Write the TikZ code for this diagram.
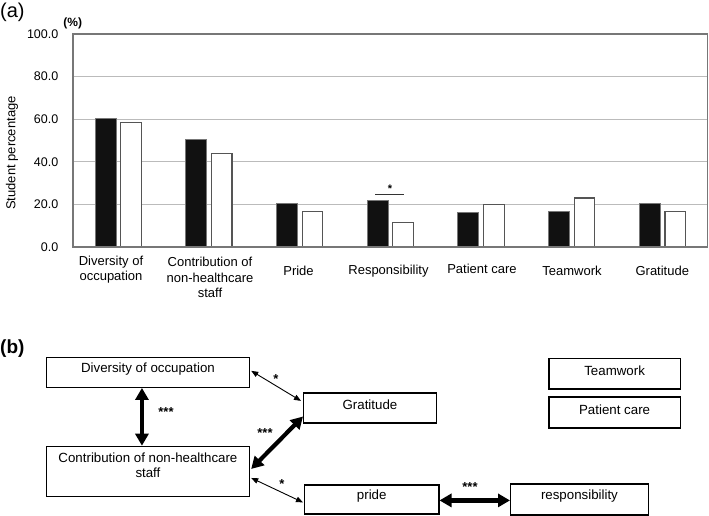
\documentclass[tikz,border=0pt]{standalone}
\usepackage{fontspec}
\setmainfont{Liberation Sans}
\usetikzlibrary{arrows.meta}
\definecolor{barblack}{HTML}{111111}
\definecolor{frame}{HTML}{777777}
\definecolor{gridc}{HTML}{BBBBBB}
\definecolor{bwhite}{HTML}{555555}
\tikzset{
  lbl/.style={font=\fontsize{13}{15.6}\selectfont, inner sep=0pt, align=center},
  tick/.style={font=\fontsize{12.5}{14}\selectfont, inner sep=0pt, anchor=east},
  blk/.style={fill=barblack, draw=frame, line width=0.8pt},
  wht/.style={fill=white, draw=bwhite, line width=1.2pt},
  box/.style={draw, line width=1.2pt, inner sep=0pt, anchor=north west},
  btxt/.style={font=\fontsize{13.3}{15.5}\selectfont, inner sep=0pt, align=center},
  star/.style={font=\fontsize{13}{14}\selectfont\bfseries, inner sep=0pt},
  thick arr/.style={line width=4.2pt, {Triangle[width=13pt,length=12pt]}-{Triangle[width=13pt,length=12pt]}},
  thin arr/.style={line width=0.9pt, {Triangle[width=5.5pt,length=7pt]}-{Triangle[width=5.5pt,length=7pt]}},
}
\begin{document}
\begin{tikzpicture}[x=1pt,y=-1pt]
\useasboundingbox (0,0) rectangle (709,515);
% ---------- (a) chart ----------
\node[font=\fontsize{20}{22}\selectfont, inner sep=0pt, anchor=west] (pa) at (0,12) {(a)};
\node[font=\fontsize{12}{13}\selectfont\bfseries, inner sep=0pt] (pct) at (72.7,23) {(\%)};
\node[lbl, rotate=90] (ylab) at (12,153) {Student percentage};
% grid
\foreach \v in {20,40,60,80} {
  \draw[gridc, line width=1pt] (73,{247-2.13*\v}) -- (707.5,{247-2.13*\v});
}
\foreach \v/\t in {0/0.0,20/20.0,40/40.0,60/60.0,80/80.0,100/100.0} {
  \node[tick] (tk\v) at (58.5,{247-2.13*\v}) {\t};
}
% bars
\foreach \i/\a/\b in {0/60.5/58.5,1/50.6/43.8,2/20.5/16.8,3/21.9/11.6,4/16.1/19.9,5/16.8/23.0,6/20.5/16.8} {
  \pgfmathsetmacro{\c}{73+90.7*(\i+0.5)}
  \draw[blk] ({\c-23.4},247) rectangle ({\c-2.4},{247-2.13*\a});
  \draw[wht] ({\c+2.4},247) rectangle ({\c+23},{247-2.13*\b});
}
% frame
\draw[frame, line width=1.3pt] (73,34) rectangle (707.5,247);
% significance
\draw[line width=1pt, black!80] (375,194.7) -- (403.7,194.7);
\node[star, font=\fontsize{11}{12}\selectfont\bfseries] (sa) at (390,188.5) {*};
% category labels
\node[lbl] (c1) at (111,269.5) {Diversity of\\occupation};
\node[lbl] (c2) at (210,277.5) {Contribution of\\non-healthcare\\staff};
\node[lbl] (c3) at (298.5,271.3) {Pride};
\node[lbl] (c4) at (388.5,271) {Responsibility};
\node[lbl] (c5) at (482,268.7) {Patient care};
\node[lbl] (c6) at (572,271) {Teamwork};
\node[lbl] (c7) at (662.3,271) {Gratitude};
% ---------- (b) diagram ----------
\node[font=\fontsize{19}{21}\selectfont\bfseries, inner sep=0pt, anchor=west] (pb) at (0,349) {(b)};
\node[box, minimum width=203.3pt, minimum height=30pt] (div) at (45.7,356.7) {};
\node[box, minimum width=203.3pt, minimum height=50.3pt] (con) at (45.7,445.7) {};
\node[box, minimum width=132.7pt, minimum height=30pt] (grat) at (303,392.3) {};
\node[box, minimum width=134.3pt, minimum height=29pt] (pri) at (304,484.3) {};
\node[box, minimum width=137.7pt, minimum height=31pt] (res) at (510,483.3) {};
\node[box, minimum width=131.4pt, minimum height=30.6pt] (team) at (548.3,357.7) {};
\node[box, minimum width=131.4pt, minimum height=31pt] (pc) at (548.3,396.3) {};
\node[btxt] (divt) at ([yshift=3.5pt]div.center) {Diversity of occupation};
\node[btxt] (cont) at ([yshift=6pt]con.center) {Contribution of non-healthcare\\staff};
\node[btxt] (gratt) at ([yshift=3.5pt]grat.center) {Gratitude};
\node[btxt] (prit) at ([yshift=3.5pt]pri.center) {pride};
\node[btxt] (rest) at ([yshift=3pt]res.center) {responsibility};
\node[btxt] (teamt) at ([yshift=3pt]team.center) {Teamwork};
\node[btxt] (pct2) at ([yshift=3pt]pc.center) {Patient care};
% arrows
\draw[thick arr] ([xshift=-6pt]div.south) -- ([xshift=-6pt]con.north);
\node[star] (s1) at (166,412) {***};
\draw[thin arr] ([xshift=1pt,yshift=1.5pt]div.east) -- ([xshift=-2pt,yshift=7pt]grat.west);
\node[star] (s2) at (276,379) {*};
\draw[thick arr] ([xshift=1pt,yshift=2.5pt]con.east) -- ([yshift=7pt]grat.south west);
\node[star] (s3) at (265,433) {***};
\draw[thin arr] ([xshift=1pt,yshift=-6.5pt]con.east) -- ([xshift=-1pt,yshift=-3pt]pri.west);
\node[star] (s4) at (282,484) {*};
\draw[thick arr] ([yshift=-1pt]pri.east) -- ([yshift=-1pt]res.west);
\node[star] (s5) at (470,487) {***};
\end{tikzpicture}
\end{document}
